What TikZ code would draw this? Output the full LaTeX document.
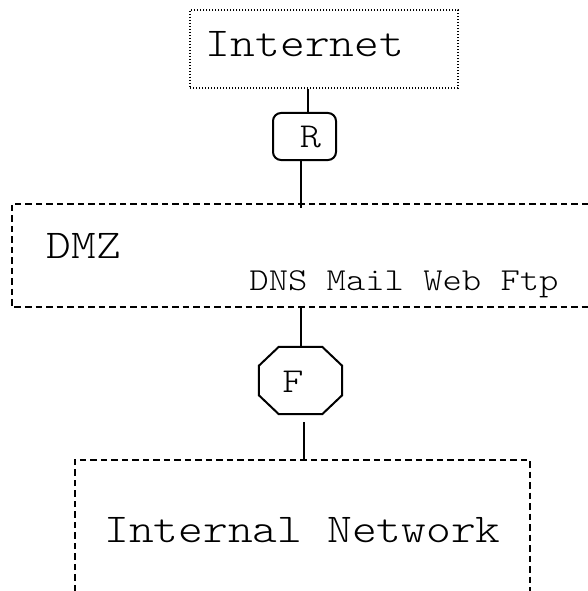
\documentclass[tikz,border=0pt]{standalone}
\usepackage{fontspec}
\newfontfamily\typer[FakeStretch=1.15]{Latin Modern Mono Light}
\usetikzlibrary{calc}

\tikzset{
  wire/.style={line width=2pt},
  zone/.style={rectangle, inner sep=0pt, draw=none},
  dotline/.style={line width=1.1pt, dash pattern=on 1.1pt off 1.9pt},
  dashline/.style={line width=1.5pt, dash pattern=on 6.5pt off 4pt},
  bigtext/.style={font=\typer\fontsize{41}{45}\selectfont, inner sep=0pt, anchor=base},
  smalltext/.style={font=\typer\fontsize{32}{36}\selectfont, inner sep=0pt, anchor=base},
  marktext/.style={font=\typer\fontsize{35}{38}\selectfont, inner sep=0pt, anchor=base},
  routerbox/.style={rectangle, draw, line width=2pt, rounded corners=8pt,
    minimum width=63pt, minimum height=47pt, inner sep=0pt},
}

\begin{document}
\begin{tikzpicture}[x=1pt, y=-1pt]
  \useasboundingbox (0,0) rectangle (588,591);

  % Internet cloud box (dotted)
  \node[zone, draw, dotline, minimum width=268pt, minimum height=78pt] (inet) at (324,49) {};
  \node[bigtext] (inettxt) at (305,57) {Internet};

  % Router
  \node[routerbox] (r) at (304.5,136.5) {};
  \node[marktext] (rtxt) at (310.5,147) {R};

  % DMZ zone, open to the right
  \node[zone, minimum width=576pt, minimum height=103pt] (dmz) at (300,255.5) {};
  \draw[dashline] (dmz.north east) -- (dmz.north west) -- (dmz.south west) -- (dmz.south east);
  \node[bigtext] (dmztxt) at (84,258) {DMZ};
  \node[smalltext] (srv) at (404,290) {DNS Mail Web Ftp};

  % Firewall (octagon)
  \node[zone, minimum width=83pt, minimum height=67pt] (fw) at (300.5,380.5) {};
  \draw[wire, line join=miter]
    ([xshift=20pt]fw.north west) -- ([xshift=-20pt]fw.north east)
    -- ([yshift=-19pt]fw.north east) -- ([yshift=19pt]fw.south east)
    -- ([xshift=-20pt]fw.south east) -- ([xshift=20pt]fw.south west)
    -- ([yshift=19pt]fw.south west) -- ([yshift=-19pt]fw.north west) -- cycle;
  \node[marktext] (fwtxt) at (293,392) {F};

  % Internal network zone, open at the bottom
  \node[zone, minimum width=455pt, minimum height=131pt] (lan) at (302.5,525.5) {};
  \draw[dashline] (lan.south west) -- (lan.north west) -- (lan.north east) -- (lan.south east);
  \node[bigtext] (lantxt) at (302.5,542) {Internal Network};

  % Links
  \draw[wire] ([xshift=3.5pt]r.north) -- ([xshift=3.5pt]r.north |- inet.south);
  \draw[wire] ([xshift=-3.5pt]r.south) -- ([xshift=-3.5pt,yshift=-4pt]r.south |- dmz.north);
  \draw[wire] (fw.north) -- (fw.north |- dmz.south);
  \draw[wire] ([xshift=3.5pt,yshift=-8pt]fw.south) -- ([xshift=3.5pt]fw.south |- lan.north);
\end{tikzpicture}
\end{document}
